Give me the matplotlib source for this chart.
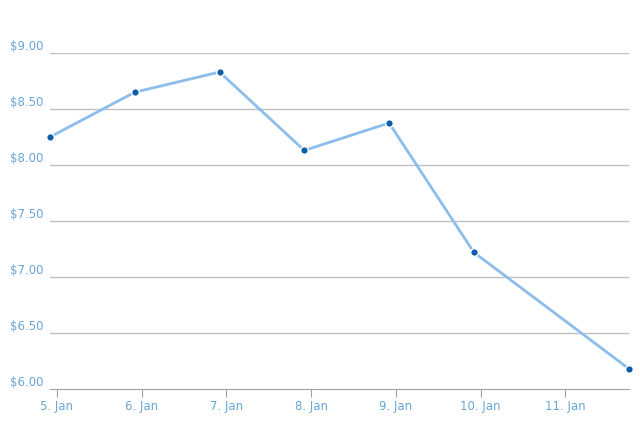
import matplotlib
matplotlib.use("Agg")
import matplotlib.pyplot as plt
import matplotlib.transforms as mtransforms

x_days = [-0.08, 0.92, 1.92, 2.92, 3.92, 4.92, 6.75]
prices = [8.25, 8.65, 8.83, 8.13, 8.375, 7.22, 6.18]
tick_labels = ["5. Jan", "6. Jan", "7. Jan", "8. Jan", "9. Jan", "10. Jan", "11. Jan"]
y_ticks = [6.0, 6.5, 7.0, 7.5, 8.0, 8.5, 9.0]

fig = plt.figure(figsize=(6.4, 4.26), dpi=100)
ax = fig.add_axes([50/640, 1-389/426, 579/640, 336/426])
ax.plot(x_days, prices, color="#8cbdec", lw=2, zorder=3, clip_on=False)
ax.scatter(x_days, prices, s=30, color="#0b5ea8", edgecolor="white", linewidth=1, zorder=4, clip_on=False)
ax.set_xlim(-0.08, 6.75)
ax.set_ylim(6.0, 9.0)
for y in y_ticks[1:]:
    ax.axhline(y, color="#c0c0c0", lw=1, zorder=1)

for s in ["top", "right", "left"]:
    ax.spines[s].set_visible(False)
ax.spines["bottom"].set_color("#a0a0a0")
ax.set_yticks([])
ax.set_xticks(range(len(tick_labels)))
ax.set_xticklabels(tick_labels, color="#6aa6d8", fontsize=8.5)
ax.tick_params(axis="x", length=6, color="#a0a0a0", pad=2)
trans = mtransforms.blended_transform_factory(fig.transFigure, ax.transData)
for y in y_ticks:
    ax.text(10/640, y, "$%.2f" % y, transform=trans,
            color="#6aa6d8", fontsize=8.5, ha="left", va="bottom")
fig.savefig("out.png", dpi=100)
